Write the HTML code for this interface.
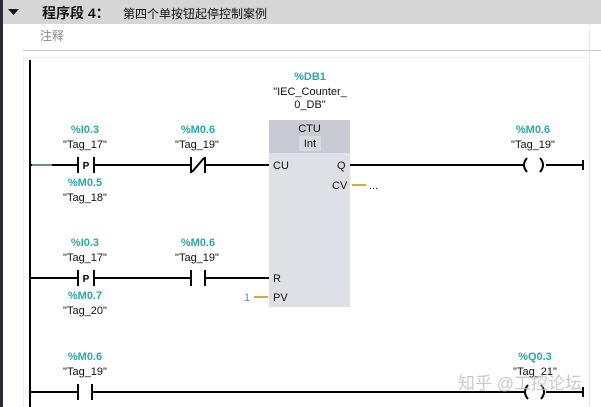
<!DOCTYPE html>
<html><head><meta charset="utf-8"><style>
html,body{margin:0;padding:0;background:#fff;width:601px;height:407px;overflow:hidden}
svg{display:block}
.t{font-family:"Liberation Sans","Noto Sans CJK SC",sans-serif;}
</style></head><body>
<svg width="601" height="407" viewBox="0 0 601 407" xmlns="http://www.w3.org/2000/svg">
<rect x="0" y="0" width="601" height="407" fill="#fff"/>
<rect x="0" y="0" width="601" height="24" fill="#d6d6d6"/>
<rect x="0" y="0" width="3" height="407" fill="#2a2a35"/>
<polygon points="8,9 19,9 13.5,15" fill="#111"/>
<text x="42" y="18" class="t" font-size="14" font-weight="bold" fill="#111">程序段 4：</text>
<text x="123" y="18" class="t" font-size="12" fill="#111">第四个单按钮起停控制案例</text>
<text x="40" y="40" class="t" font-size="12" fill="#888">注释</text>
<line x1="23" y1="50.5" x2="601" y2="50.5" stroke="#ccc"/>
<line x1="23" y1="57.5" x2="590" y2="57.5" stroke="#eee"/>
<line x1="589.5" y1="30" x2="589.5" y2="407" stroke="#e4e4e4"/>
<line x1="23.5" y1="57" x2="23.5" y2="407" stroke="#eee"/>
<!-- rail -->
<line x1="30" y1="60" x2="30" y2="407" stroke="#000" stroke-width="2"/>
<g stroke="#000" stroke-width="2" fill="none">
<!-- rung1 -->
<line x1="30" y1="165" x2="78" y2="165"/>
<line x1="94" y1="165" x2="191" y2="165"/>
<line x1="205" y1="165" x2="269" y2="165"/>
<line x1="78" y1="157" x2="78" y2="173"/><line x1="94" y1="157" x2="94" y2="173"/>
<line x1="191" y1="157" x2="191" y2="173"/><line x1="205" y1="157" x2="205" y2="173"/>
<line x1="192" y1="172" x2="204" y2="158"/>
<line x1="350" y1="165" x2="523" y2="165"/>
<line x1="546" y1="165" x2="583" y2="165"/>
<line x1="583" y1="160" x2="583" y2="170"/>
<path d="M527 158 Q521 165 527 172"/><path d="M540 158 Q546 165 540 172"/>
<!-- rung2 -->
<line x1="30" y1="278" x2="78" y2="278"/>
<line x1="94" y1="278" x2="191" y2="278"/>
<line x1="205" y1="278" x2="269" y2="278"/>
<line x1="78" y1="270" x2="78" y2="286"/><line x1="94" y1="270" x2="94" y2="286"/>
<line x1="191" y1="270" x2="191" y2="286"/><line x1="205" y1="270" x2="205" y2="286"/>
<!-- rung3 -->
<line x1="30" y1="392" x2="78" y2="392"/>
<line x1="92" y1="392" x2="524" y2="392"/>
<line x1="78" y1="384" x2="78" y2="400"/><line x1="92" y1="384" x2="92" y2="400"/>
<line x1="546" y1="392" x2="583" y2="392"/>
<line x1="583" y1="387" x2="583" y2="397"/>
<path d="M528 385 Q522 392 528 399"/><path d="M541 385 Q547 392 541 399"/>
</g>
<line x1="32" y1="165" x2="52" y2="165" stroke="#6a8a9a" stroke-width="2"/>
<!-- box -->
<rect x="269" y="120" width="81" height="187" fill="#dfe0e6"/>
<rect x="269" y="120" width="81" height="33" fill="#c9cad2"/>
<rect x="299" y="136" width="22" height="15" fill="#d9dadf"/>
<g class="t" font-size="11" fill="#111">
<text x="309.5" y="132" text-anchor="middle">CTU</text>
<text x="310" y="147" text-anchor="middle">Int</text>
<text x="273" y="169">CU</text>
<text x="337" y="169">Q</text>
<text x="332" y="189">CV</text>
<text x="273" y="282">R</text>
<text x="273" y="301">PV</text>
<text x="369" y="189">...</text>
</g>
<line x1="352" y1="185" x2="366" y2="185" stroke="#e0a830" stroke-width="2"/>
<line x1="254" y1="297" x2="268" y2="297" stroke="#e0a830" stroke-width="2"/>
<text x="244" y="301" class="t" font-size="11" fill="#6b88c8">1</text>
<g class="t" font-size="11" text-anchor="middle">
<g fill="#2aa8a8" font-weight="bold">
<text x="310" y="80">%DB1</text>
<text x="85" y="133">%I0.3</text>
<text x="198" y="133">%M0.6</text>
<text x="85" y="186">%M0.5</text>
<text x="533" y="133">%M0.6</text>
<text x="85" y="246">%I0.3</text>
<text x="198" y="246">%M0.6</text>
<text x="85" y="299">%M0.7</text>
<text x="85" y="360">%M0.6</text>
<text x="535" y="360">%Q0.3</text>
</g>
<g fill="#111">
<text x="310" y="95">"IEC_Counter_</text>
<text x="310" y="108">0_DB"</text>
<text x="85" y="148">"Tag_17"</text>
<text x="197" y="148">"Tag_19"</text>
<text x="85" y="201">"Tag_18"</text>
<text x="533" y="148">"Tag_19"</text>
<text x="85" y="261">"Tag_17"</text>
<text x="197" y="261">"Tag_19"</text>
<text x="85" y="314">"Tag_20"</text>
<text x="85" y="375">"Tag_19"</text>
<text x="535" y="375">"Tag_21"</text>
</g>
</g>
<text x="86" y="169" class="t" font-size="10" font-weight="bold" text-anchor="middle">P</text>
<text x="86" y="282" class="t" font-size="10" font-weight="bold" text-anchor="middle">P</text>
<text x="458" y="389" class="t" font-size="17" fill="#bbb" fill-opacity="0.8">知乎 @工控论坛</text>
</svg>
</body></html>
